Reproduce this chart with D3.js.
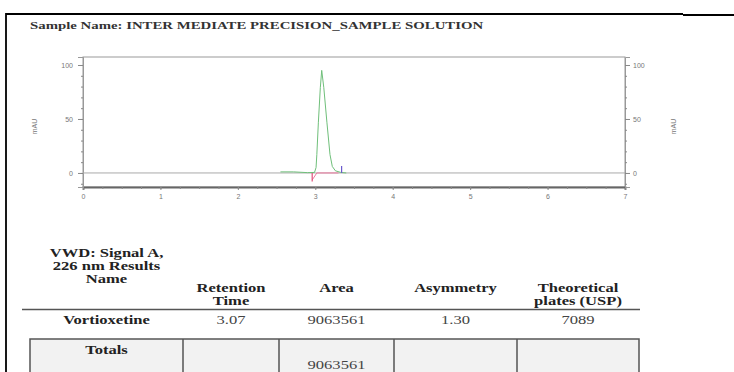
<!DOCTYPE html>
<html>
<head>
<meta charset="utf-8">
<script src="https://cdn.jsdelivr.net/npm/d3@7"></script>
<style>
  body { margin: 0; background: #fff; }
  svg { display: block; }
</style>
</head>
<body>
<div id="chart"></div>
<script>
// chromatogram trace (minutes, mAU)
const peakTime = [2.55, 2.72, 2.90, 2.99, 3.01, 3.02, 3.04, 3.065, 3.083, 3.11, 3.15, 3.19, 3.22, 3.26, 3.33, 3.40];
const peakAbs  = [1.0, 1.0, 0.3, 0.5, 5, 17, 47, 79, 95, 79, 47, 17, 6, 2, 0.5, 0];
// integration baseline + start / end markers
const baseTime = [2.96, 3.02, 3.30];
const baseAbs  = [-6.5, 0, 0];
const startMark = [2.96, -8, 0];
const endMark = [3.34, 0, 6.5];

const xTicks = [0, 1, 2, 3, 4, 5, 6, 7];
const yTicks = [0, 50, 100];

const sampleName = "Sample Name: INTER MEDIATE PRECISION_SAMPLE SOLUTION";
const headerCols = [["VWD: Signal A,", "226 nm Results", "Name"], ["Retention", "Time"], ["Area"], ["Asymmetry"], ["Theoretical", "plates (USP)"]];
const resultRow = ["Vortioxetine", "3.07", "9063561", "1.30", "7089"];
const totalsRow = ["Totals", "", "9063561", "", ""];

const W = 734, H = 372;
const SX = 1.38; // the scanned page is stretched sideways
const svg = d3.select("#chart").append("svg").attr("width", W).attr("height", H);

// page frame
svg.append("path").attr("d", "M6,372 V14 H683").attr("fill", "none").attr("stroke", "#000").attr("stroke-width", 1.8);
svg.append("line").attr("x1", 683).attr("x2", 734).attr("y1", 15).attr("y2", 15).attr("stroke", "#000").attr("stroke-width", 1.8);

svg.append("text").attr("transform", `translate(30,29) scale(1.41,1)`)
  .attr("font-family", "Liberation Serif, serif").attr("font-weight", "bold").attr("font-size", 10.5)
  .attr("fill", "#333").text(sampleName);

// plot area
const x = d3.scaleLinear().domain([0, 7]).range([83, 625]);
const y = d3.scaleLinear().domain([-13, 107.4]).range([187, 57]);

const g = svg.append("g").attr("font-family", "Liberation Sans, Arial, sans-serif");
g.append("rect").attr("x", x(0)).attr("y", y(107.4)).attr("width", x(7) - x(0)).attr("height", y(-13) - y(107.4))
  .attr("fill", "none").attr("stroke", "#999").attr("stroke-width", 1);

// bottom axis
const xAxis = g.append("g").attr("transform", `translate(0,${y(-13)})`)
  .call(d3.axisBottom(x).tickValues(xTicks).tickSize(3).tickPadding(4).tickFormat(d3.format("d")));
g.append("g").attr("transform", `translate(0,${y(-13)})`)
  .call(d3.axisBottom(x).tickValues(d3.range(0, 7.01, 0.25)).tickSize(2).tickFormat(""))
  .call(a => a.select(".domain").remove());

// left / right axes
g.append("g").attr("transform", `translate(${x(0)},0)`)
  .call(d3.axisLeft(y).tickValues(yTicks).tickSize(5).tickPadding(5));
g.append("g").attr("transform", `translate(${x(7)},0)`)
  .call(d3.axisRight(y).tickValues(yTicks).tickSize(5).tickPadding(3));
g.append("g").attr("transform", `translate(${x(7)},0)`)
  .call(d3.axisRight(y).tickValues(d3.range(-10, 101, 10)).tickSize(2).tickFormat(""))
  .call(a => a.select(".domain").remove());
g.append("g").attr("transform", `translate(${x(0)},0)`)
  .call(d3.axisLeft(y).tickValues(d3.range(-10, 101, 10)).tickSize(2).tickFormat(""))
  .call(a => a.select(".domain").remove());

g.selectAll(".tick line").attr("stroke", "#888");
g.selectAll(".domain").attr("stroke", "#999");
g.selectAll(".tick text").attr("fill", "#777").attr("font-size", 7);
xAxis.select(".domain").attr("stroke", "#666").attr("stroke-width", 1.8);

[35, 674].forEach(cx => {
  g.append("text").attr("transform", `translate(${cx},${y(43)}) rotate(-90)`)
    .attr("text-anchor", "middle").attr("dy", "0.35em").attr("font-size", 7).attr("fill", "#777").text("mAU");
});

// zero line
g.append("line").attr("x1", x(0)).attr("x2", x(7)).attr("y1", y(0)).attr("y2", y(0))
  .attr("stroke", "#aaa").attr("stroke-width", 1);

const line = d3.line().x(d => x(d[0])).y(d => y(d[1]));

g.append("path").datum(d3.zip(baseTime, baseAbs)).attr("d", line)
  .attr("fill", "none").attr("stroke", "#f07aa0").attr("stroke-width", 1);
g.append("path").datum(d3.zip(peakTime, peakAbs)).attr("d", line)
  .attr("fill", "none").attr("stroke", "#6fbf7a").attr("stroke-width", 1);
g.append("line").attr("x1", x(startMark[0])).attr("x2", x(startMark[0]))
  .attr("y1", y(startMark[1])).attr("y2", y(startMark[2])).attr("stroke", "#e0507a").attr("stroke-width", 1.2);
g.append("line").attr("x1", x(endMark[0])).attr("x2", x(endMark[0]))
  .attr("y1", y(endMark[1])).attr("y2", y(endMark[2])).attr("stroke", "#6a5acd").attr("stroke-width", 1.2);

// results table
const colEdges = [30, 183, 279, 394, 517, 639];
const colX = d3.pairs(colEdges).map(([a, b]) => (a + b) / 2);
const t = svg.append("g").attr("font-family", "Liberation Serif, serif").attr("text-anchor", "middle");

const cellText = (cx, cy, s, bold, color) => t.append("text")
  .attr("transform", `translate(${cx},${cy}) scale(${SX},1)`)
  .attr("font-weight", bold ? "bold" : "normal").attr("font-size", 12).attr("fill", color).text(s);

headerCols.forEach((lines, i) => {
  const top = i === 0 ? 257 : 292;
  lines.forEach((s, j) => cellText(colX[i], top + j * 13, s, true, "#222"));
});
t.append("line").attr("x1", 22).attr("x2", 640).attr("y1", 309.5).attr("y2", 309.5)
  .attr("stroke", "#555").attr("stroke-width", 1.3);

resultRow.forEach((s, i) => cellText(colX[i], 324, s, i === 0, i === 0 ? "#222" : "#444"));

const boxTop = 339;
t.append("rect").attr("x", colEdges[0]).attr("y", boxTop).attr("width", colEdges[5] - colEdges[0]).attr("height", H - boxTop + 5)
  .attr("fill", "#f2f2f2").attr("stroke", "#555").attr("stroke-width", 1.5);
colEdges.slice(1, 5).forEach(cx => {
  t.append("line").attr("x1", cx).attr("x2", cx).attr("y1", boxTop).attr("y2", H)
    .attr("stroke", "#555").attr("stroke-width", 1.5);
});
totalsRow.forEach((s, i) => {
  if (s) cellText(colX[i], i === 0 ? 354 : 369, s, i === 0, i === 0 ? "#222" : "#444");
});
</script>
</body>
</html>
